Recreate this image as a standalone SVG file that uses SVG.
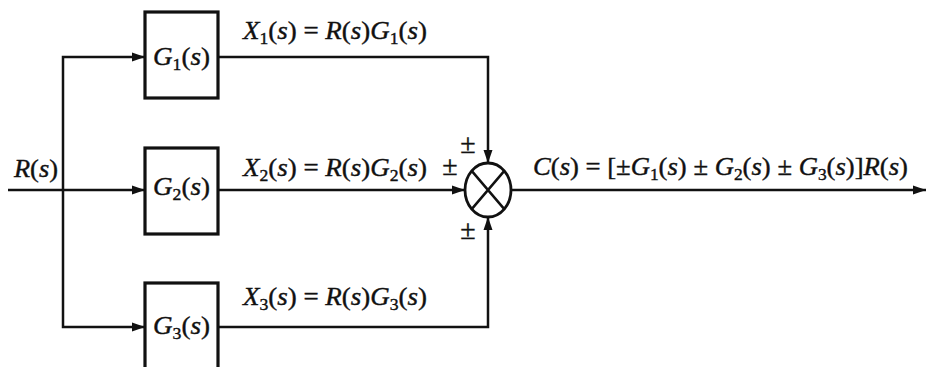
<svg xmlns="http://www.w3.org/2000/svg" width="926" height="367" viewBox="0 0 926 367">
<defs>
<marker id="ah" markerUnits="userSpaceOnUse" markerWidth="14" markerHeight="10" refX="13" refY="5" orient="auto">
<path d="M0,0.5 L13,5 L0,9.5 z" fill="#111"/>
</marker>
<style>
.ln{stroke:#111;stroke-width:2.5;fill:none}
.bx{fill:#fff;stroke:#111;stroke-width:3.2}
.t{font-family:"Liberation Serif","Times New Roman",serif;font-size:26px;fill:#111;stroke:#111;stroke-width:0.4}
.i{font-style:italic}
.sub{font-size:17px}
.pm{font-size:28px;text-anchor:middle}
</style>
</defs>
<rect width="926" height="367" fill="#fff"/>
<g id="connectors">
<path class="ln" d="M8,190 H145" marker-end="url(#ah)"/>
<path class="ln" d="M63,190 V57 H145" marker-end="url(#ah)"/>
<path class="ln" d="M63,190 V327 H145" marker-end="url(#ah)"/>
<path class="ln" d="M218,57 H488 V163" marker-end="url(#ah)"/>
<path class="ln" d="M218,190 H465" marker-end="url(#ah)"/>
<path class="ln" d="M218,327 H488 V217" marker-end="url(#ah)"/>
<path class="ln" d="M511,190 H926" marker-end="url(#ah)"/>
</g>
<g id="G1">
<rect class="bx" x="145" y="12" width="73" height="86"/>
<text class="t" x="153" y="65" textLength="57" lengthAdjust="spacingAndGlyphs"><tspan class="i">G</tspan><tspan class="sub" dy="5">1</tspan><tspan dy="-5">(</tspan><tspan class="i">s</tspan>)</text>
</g>
<g id="G2">
<rect class="bx" x="145" y="148" width="73" height="86"/>
<text class="t" x="153" y="195" textLength="57" lengthAdjust="spacingAndGlyphs"><tspan class="i">G</tspan><tspan class="sub" dy="5">2</tspan><tspan dy="-5">(</tspan><tspan class="i">s</tspan>)</text>
</g>
<g id="G3">
<rect class="bx" x="145" y="283" width="73" height="100"/>
<text class="t" x="153" y="334" textLength="57" lengthAdjust="spacingAndGlyphs"><tspan class="i">G</tspan><tspan class="sub" dy="5">3</tspan><tspan dy="-5">(</tspan><tspan class="i">s</tspan>)</text>
</g>
<g id="sum">
<ellipse cx="488" cy="190" rx="23" ry="27" fill="#fff" stroke="#111" stroke-width="2.8"/>
<path class="ln" d="M471.7,170.9 L504.3,209.1 M504.3,170.9 L471.7,209.1"/>
<text class="t pm" x="468" y="153">±</text>
<text class="t pm" x="450" y="175">±</text>
<text class="t pm" x="468" y="239">±</text>
</g>
<g id="labels">
<text class="t" x="14" y="177" textLength="44" lengthAdjust="spacingAndGlyphs"><tspan class="i">R</tspan>(<tspan class="i">s</tspan>)</text>
<text class="t" x="243" y="39" textLength="184" lengthAdjust="spacingAndGlyphs"><tspan class="i">X</tspan><tspan class="sub" dy="5">1</tspan><tspan dy="-5">(</tspan><tspan class="i">s</tspan>) = <tspan class="i">R</tspan>(<tspan class="i">s</tspan>)<tspan class="i">G</tspan><tspan class="sub" dy="5">1</tspan><tspan dy="-5">(</tspan><tspan class="i">s</tspan>)</text>
<text class="t" x="243" y="176" textLength="184" lengthAdjust="spacingAndGlyphs"><tspan class="i">X</tspan><tspan class="sub" dy="5">2</tspan><tspan dy="-5">(</tspan><tspan class="i">s</tspan>) = <tspan class="i">R</tspan>(<tspan class="i">s</tspan>)<tspan class="i">G</tspan><tspan class="sub" dy="5">2</tspan><tspan dy="-5">(</tspan><tspan class="i">s</tspan>)</text>
<text class="t" x="243" y="305" textLength="184" lengthAdjust="spacingAndGlyphs"><tspan class="i">X</tspan><tspan class="sub" dy="5">3</tspan><tspan dy="-5">(</tspan><tspan class="i">s</tspan>) = <tspan class="i">R</tspan>(<tspan class="i">s</tspan>)<tspan class="i">G</tspan><tspan class="sub" dy="5">3</tspan><tspan dy="-5">(</tspan><tspan class="i">s</tspan>)</text>
<text class="t" x="533" y="175" textLength="375" lengthAdjust="spacingAndGlyphs"><tspan class="i">C</tspan>(<tspan class="i">s</tspan>) = [±<tspan class="i">G</tspan><tspan class="sub" dy="5">1</tspan><tspan dy="-5">(</tspan><tspan class="i">s</tspan>) ± <tspan class="i">G</tspan><tspan class="sub" dy="5">2</tspan><tspan dy="-5">(</tspan><tspan class="i">s</tspan>) ± <tspan class="i">G</tspan><tspan class="sub" dy="5">3</tspan><tspan dy="-5">(</tspan><tspan class="i">s</tspan>)]<tspan class="i">R</tspan>(<tspan class="i">s</tspan>)</text>
</g>
</svg>
